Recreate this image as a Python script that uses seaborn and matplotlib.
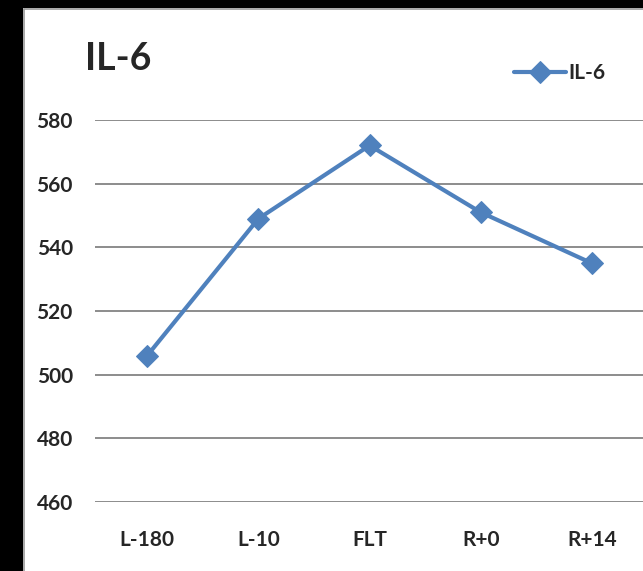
import matplotlib
matplotlib.use("Agg")
import matplotlib.pyplot as plt
import pandas as pd
import seaborn as sns
from matplotlib.lines import Line2D
from matplotlib.patches import Rectangle

# Data
timepoints = ["L-180", "L-10", "FLT", "R+0", "R+14"]
il6_values = [506, 549, 572, 551, 535]
y_ticks = [460, 480, 500, 520, 540, 560, 580]

df = pd.DataFrame({"timepoint": timepoints, "IL-6": il6_values})
df["pos"] = range(len(timepoints))

# Style
sns.set_style("white")
plt.rcParams["font.family"] = ["Lato", "DejaVu Sans"]

W, H = 643, 571
fig = plt.figure(figsize=(W / 100, H / 100), dpi=100)
ax = fig.add_axes([95 / W, 1 - 502 / H, 1 - 95 / W, (502 - 120) / H])

blue = "#4F81BD"
sns.lineplot(data=df, x="pos", y="IL-6", ax=ax, color=blue, linewidth=3.0,
             marker="D", markersize=11, markeredgecolor=blue, label="IL-6",
             clip_on=False)

ax.set_xlim(-0.47, 4.46)
ax.set_ylim(460, 580)
ax.set_yticks(y_ticks)
ax.set_xticks(df["pos"])
ax.set_xticklabels(timepoints)
ax.set_xlabel("")
ax.set_ylabel("")

ax.yaxis.grid(True, color="#8c8c8c", linewidth=1.4)
ax.set_axisbelow(True)
for s in ax.spines.values():
    s.set_visible(False)
ax.tick_params(axis="both", length=0, labelsize=15)
ax.tick_params(axis="y", pad=16)
ax.tick_params(axis="x", pad=20)
for lbl in ax.get_xticklabels() + ax.get_yticklabels():
    lbl.set_fontweight("bold")

# Title
fig.text(85 / W, 1 - 70 / H, "IL-6", fontsize=27, fontweight="bold",
         ha="left", va="baseline")

# Legend
leg = ax.legend(loc="center left", bbox_to_anchor=(495 / W, 1 - 73 / H),
                bbox_transform=fig.transFigure, frameon=False,
                handlelength=2.5, handletextpad=0.1,
                prop={"size": 15, "weight": "bold"})

# Frame: black bands on left and top, grey border line
fig.patches.append(Rectangle((0, 0), 23 / W, 1, transform=fig.transFigure,
                             facecolor="black", edgecolor="none", zorder=5))
fig.patches.append(Rectangle((0, 1 - 8 / H), 1, 8 / H, transform=fig.transFigure,
                             facecolor="black", edgecolor="none", zorder=5))
fig.lines.append(Line2D([23.5 / W, 23.5 / W], [0, 1 - 8.5 / H],
                        transform=fig.transFigure, color="#9a9a9a", linewidth=1.2))
fig.lines.append(Line2D([23.5 / W, 1], [1 - 8.5 / H, 1 - 8.5 / H],
                        transform=fig.transFigure, color="#9a9a9a", linewidth=1.2))

fig.savefig("out.png", dpi=100)
